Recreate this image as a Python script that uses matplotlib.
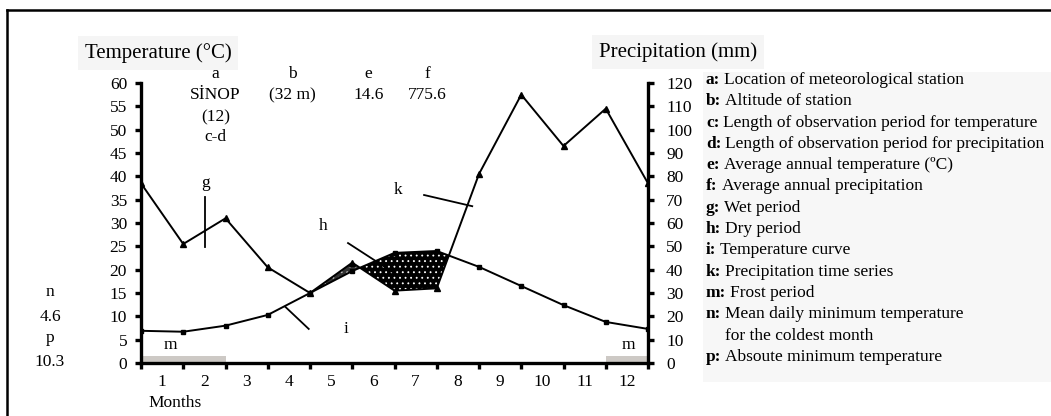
import numpy as np
import matplotlib.pyplot as plt
from matplotlib.lines import Line2D
from matplotlib.patches import Rectangle

# monthly values (points sit on the month boundaries 0..12)
months = np.arange(13)
temperature = [6.9, 6.7, 8.0, 10.3, 15.0, 19.7, 23.6, 24.0, 20.6, 16.5, 12.4, 8.8, 7.3]
precipitation = [77, 51, 62, 41, 30, 43, 31, 32, 81, 115, 93, 109, 77]
month_labels = [str(m) for m in range(1, 13)]
frost_periods = [(0, 2), (11, 12)]

legend_keys = ["a:", "b:", "c:", "d:", "e:", "f:", "g:", "h:", "i:", "k:", "m:", "n:", "", "p:"]
legend_texts = ["Location of meteorological station",
                "Altitude of station",
                "Length of observation period for temperature",
                "Length of observation period for precipitation",
                "Average annual temperature (ºC)",
                "Average annual precipitation",
                "Wet period",
                "Dry period",
                "Temperature curve",
                "Precipitation time series",
                "Frost period",
                "Mean daily minimum temperature",
                "for the coldest month",
                "Absoute minimum temperature"]

plt.rcParams['font.family'] = ['Liberation Serif', 'DejaVu Serif']
plt.rcParams['hatch.linewidth'] = 0.6

W, H = 1051, 416
fig = plt.figure(figsize=(W / 100, H / 100), dpi=100)

def fx(px):
    return px / W

def fy(py):
    return 1 - py / H

ax = fig.add_axes([fx(141), fy(363), (648 - 141) / W, (363 - 83) / H])
ax2 = ax.twinx()

T = np.array(temperature)
P2 = np.array(precipitation) / 2.0   # precipitation on the temperature scale

# dry period (precipitation below temperature)
ax.fill_between(months, T, P2, where=P2 < T, interpolate=True,
                facecolor='black', edgecolor='white', hatch='...', lw=0, zorder=2)
# thin sliver next to it
ax.fill_between(months, T, P2, where=(P2 >= T) & (months >= 4) & (months <= 6),
                interpolate=True, facecolor='#333333', edgecolor='#bbbbbb',
                hatch='...', lw=0, zorder=2)

ax.plot(months, temperature, color='black', lw=1.4, marker='s', ms=3.2, zorder=3)
ax2.plot(months, precipitation, color='black', lw=1.4, marker='^', ms=3.8, zorder=3)

# frost period bars
for start, end in frost_periods:
    ax.bar(start, 1.5, width=end - start, align='edge', color='#cdc9c5', zorder=1)

ax.set_xlim(0, 12)
ax.set_ylim(0, 60)
ax2.set_ylim(0, 120)

ax.set_yticks(np.arange(0, 61, 5))
ax2.set_yticks(np.arange(0, 121, 10))
ax.set_xticks(months)
ax.set_xticklabels([])
ax.set_xticks(months[:-1] + 0.5, minor=True)
ax.set_xticklabels(month_labels, minor=True)

for a in (ax, ax2):
    a.spines['top'].set_visible(False)
    for s in ('left', 'right', 'bottom'):
        a.spines[s].set_linewidth(2.4)
ax.spines['right'].set_visible(False)
ax2.spines['left'].set_visible(False)
ax2.spines['bottom'].set_visible(False)

ax.tick_params(axis='y', direction='out', length=4, width=2.4, labelsize=12.5, pad=6)
ax2.tick_params(axis='y', direction='out', length=4, width=2.4, labelsize=12.5, pad=9)
ax.tick_params(axis='x', which='major', direction='out', length=4, width=2.4)
ax.tick_params(axis='x', which='minor', length=0, labelsize=12.5, pad=8)
for lab in ax2.get_yticklabels():
    lab.set_horizontalalignment('left')
ax.set_facecolor('none')

# station info above the plot
tk = dict(ha='center', va='center', fontsize=12.5, clip_on=False)
ax.text(1.76, 62.0, "a", **tk)
ax.text(1.76, 57.4, "SİNOP", **tk)
ax.text(1.76, 52.7, "(12)", **tk)
ax.text(1.76, 48.4, "c-d", **tk)
ax.text(3.59, 62.0, "b", **tk)
ax.text(3.59, 57.4, "(32 m)", **tk)
ax.text(5.39, 62.0, "e", **tk)
ax.text(5.39, 57.4, "14.6", **tk)
ax.text(6.77, 62.0, "f", **tk)
ax.text(6.77, 57.4, "775.6", **tk)

# letter markers with leader lines
ax.text(1.52, 38.6, "g", **tk)
ax.plot([1.52, 1.52], [35.6, 24.9], color='black', lw=1.3)
ax.text(4.32, 29.4, "h", **tk)
ax.plot([4.90, 5.99], [25.7, 19.3], color='black', lw=1.3, zorder=4)
ax.text(4.85, 7.3, "i", **tk)
ax.plot([3.42, 3.97], [12.0, 7.3], color='black', lw=1.3)
ax.text(6.08, 37.1, "k", **tk)
ax.plot([6.70, 7.84], [36.0, 33.6], color='black', lw=1.3)
ax.text(0.69, 3.9, "m", **tk)
ax.text(11.53, 3.9, "m", **tk)

# axis titles
box = dict(facecolor='#f5f5f5', edgecolor='none', pad=5)
fig.text(fx(158), fy(53), "Temperature (°C)", ha='center', va='center', fontsize=15, bbox=box)
fig.text(fx(678), fy(52), "Precipitation (mm)", ha='center', va='center', fontsize=15, bbox=box)
fig.text(fx(175), fy(403), "Months", ha='center', va='center', fontsize=12.5)

# n / p values on the left
for py, s in zip([292, 317, 338, 362], ["n", "4.6", "p", "10.3"]):
    fig.text(fx(50), fy(py), s, ha='center', va='center', fontsize=12.5)

# legend panel
fig.patches.append(Rectangle((fx(703), fy(382)), fx(W - 703), (382 - 72) / H,
                             transform=fig.transFigure, facecolor='#f7f7f7',
                             edgecolor='none', zorder=0))
renderer = fig.canvas.get_renderer()
for i, (k, t) in enumerate(zip(legend_keys, legend_texts)):
    py = 80 + i * 21.3
    if k:
        kt = fig.text(fx(706), fy(py), k, ha='left', va='center', fontsize=12.5,
                      fontweight='bold')
        x_end = kt.get_window_extent(renderer).x1
        fig.text((x_end + 4) / W, fy(py), t, ha='left', va='center', fontsize=12.5)
    else:
        fig.text(fx(725), fy(py), t, ha='left', va='center', fontsize=12.5)

# frame lines of the original figure
fig.add_artist(Line2D([fx(7), 1], [fy(10), fy(10)], color='black', lw=1.8))
fig.add_artist(Line2D([fx(7), fx(7)], [fy(10), 0], color='black', lw=1.8))

fig.savefig('out.png', dpi=100)
